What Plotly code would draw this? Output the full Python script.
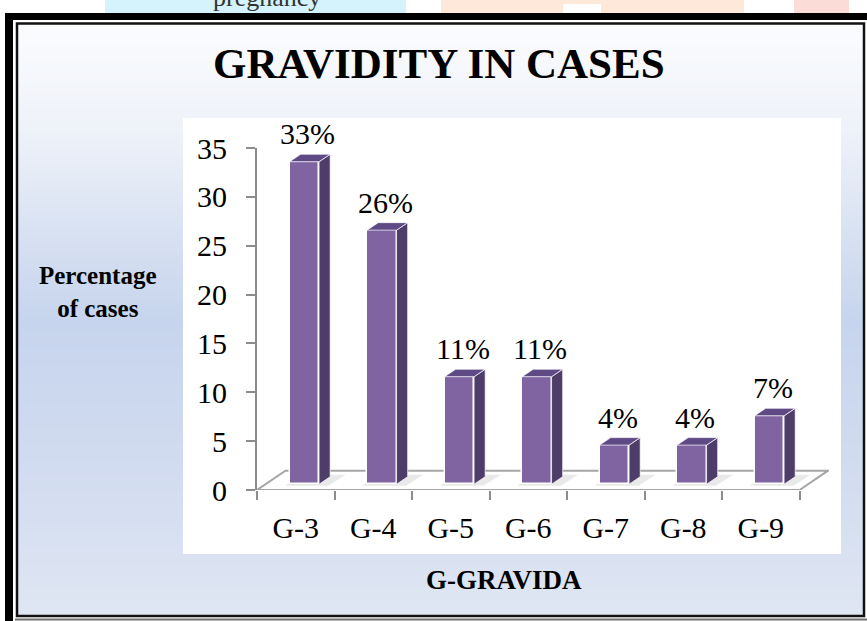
import plotly.graph_objects as go

# ---------------- data ----------------
categories = ["G-3", "G-4", "G-5", "G-6", "G-7", "G-8", "G-9"]
percent_values = [33, 26, 11, 11, 4, 4, 7]
y_tick_values = [0, 5, 10, 15, 20, 25, 30, 35]
percent_labels = [f"{v}%" for v in percent_values]

# ---------------- geometry / style ----------------
W, H = 867, 621
ML, MR, MT, MB = 257, 38, 148, 131
PW, PH = W - ML - MR, H - MT - MB
X_RANGE = [-0.5, 6.88]
Y_RANGE = [0, 35]
x_unit = PW / (X_RANGE[1] - X_RANGE[0])
y_unit = PH / (Y_RANGE[1] - Y_RANGE[0])

FDX = 28.5 / x_unit      # floor depth (x, data units)
FDY = 19.3 / y_unit      # floor depth (y, data units)
BAR_FRONT = 0.30
BAR_DEPTH = 0.39
BAR_W = 29.5 / x_unit
offx, offy = BAR_FRONT * FDX, BAR_FRONT * FDY
ddx, ddy = BAR_DEPTH * FDX, BAR_DEPTH * FDY

FONT = "Liberation Serif, Times New Roman, serif"
FRONT_C = "#8064a2"
SIDE_C = "#4f3d69"
TOP_C = "#5f4a86"
AXIS_C = "#8c8c8c"


def px(x):
    return (x - ML) / PW


def py(y):
    return (H - MB - y) / PH


def hexmix(c1, c2, t):
    a = [int(c1[i:i + 2], 16) for i in (1, 3, 5)]
    b = [int(c2[i:i + 2], 16) for i in (1, 3, 5)]
    return "#" + "".join(f"{round(a[k] + (b[k] - a[k]) * t):02x}" for k in range(3))


shapes = []
# header artifacts above the frame
for (x0, x1, col) in [(105, 406, "#d5f3fc"), (441, 744, "#fde8d9"), (794, 849, "#fcdcd6")]:
    shapes.append(dict(type="rect", xref="paper", yref="paper", x0=px(x0), x1=px(x1),
                       y0=py(0), y1=py(14), line=dict(width=0), fillcolor=col, layer="below"))
shapes.append(dict(type="rect", xref="paper", yref="paper", x0=px(563), x1=px(601),
                   y0=py(4), y1=py(14), line=dict(width=0), fillcolor="#ffffff", layer="below"))

# gradient background inside frame
stops = [(24, "#fbfcfe"), (130, "#eef2f9"), (320, "#c6d4ed"), (470, "#d2dcf0"), (616, "#dfe6f3")]
band = 6
yy = 24
while yy < 616:
    mid = yy + band / 2
    for k in range(len(stops) - 1):
        if stops[k][0] <= mid <= stops[k + 1][0]:
            t = (mid - stops[k][0]) / (stops[k + 1][0] - stops[k][0])
            col = hexmix(stops[k][1], stops[k + 1][1], t)
            break
    shapes.append(dict(type="rect", xref="paper", yref="paper", x0=px(17), x1=px(864),
                       y0=py(min(yy + band + 0.5, 616)), y1=py(yy), line=dict(width=0),
                       fillcolor=col, layer="below"))
    yy += band

# white chart area
shapes.append(dict(type="rect", xref="paper", yref="paper", x0=px(183), x1=px(841),
                   y0=py(554), y1=py(118), line=dict(width=0), fillcolor="#ffffff", layer="below"))

# frame: thick black (left & top), thin inner black rectangle
shapes.append(dict(type="rect", xref="paper", yref="paper", x0=px(5), x1=px(13),
                   y0=py(621), y1=py(13), line=dict(width=0), fillcolor="#000000", layer="below"))
shapes.append(dict(type="rect", xref="paper", yref="paper", x0=px(5), x1=px(867),
                   y0=py(20), y1=py(13), line=dict(width=0), fillcolor="#000000", layer="below"))
shapes.append(dict(type="rect", xref="paper", yref="paper", x0=px(17), x1=px(864),
                   y0=py(616), y1=py(23.5), line=dict(width=2.5, color="#111111"),
                   fillcolor="rgba(0,0,0,0)", layer="below"))
shapes.append(dict(type="line", xref="paper", yref="paper", x0=px(15), x1=px(867),
                   y0=py(619.5), y1=py(619.5), line=dict(width=2, color="#707070"), layer="below"))

# 3D floor in data coordinates
n = len(categories)
floor_path = (f"M {-0.5},0 L {n - 0.5},0 L {n - 0.5 + FDX},{FDY} "
              f"L {-0.5 + FDX},{FDY} Z")
shapes.append(dict(type="path", xref="x", yref="y", path=floor_path,
                   line=dict(color="#a6a6a6", width=2), fillcolor="#ffffff", layer="below"))
# soft shadows of bars on the floor
for i in range(n):
    xl = i + offx - BAR_W / 2
    xr = xl + BAR_W
    sp = (f"M {xl - 0.06},{offy - 0.15} L {xr + 0.12},{offy - 0.15} "
          f"L {xr + ddx + 0.2},{offy + ddy + 0.2} L {xl + ddx - 0.02},{offy + ddy + 0.2} Z")
    shapes.append(dict(type="path", xref="x", yref="y", path=sp,
                       line=dict(width=0), fillcolor="rgba(200,200,200,0.4)", layer="below"))

fig = go.Figure()

# front faces
fig.add_trace(go.Bar(
    x=[i + offx for i in range(n)], y=percent_values, base=offy, width=BAR_W,
    marker=dict(color=FRONT_C, line=dict(color="#ffffff", width=1.5)),
    hoverinfo="skip", showlegend=False))

# side and top faces
side_x, side_y, top_x, top_y = [], [], [], []
for i, v in enumerate(percent_values):
    xl = i + offx - BAR_W / 2
    xr = xl + BAR_W
    yb, yt = offy, offy + v
    side_x += [xr, xr + ddx, xr + ddx, xr, xr, None]
    side_y += [yb, yb + ddy, yt + ddy, yt, yb, None]
    top_x += [xl, xr, xr + ddx, xl + ddx, xl, None]
    top_y += [yt, yt, yt + ddy, yt + ddy, yt, None]

fig.add_trace(go.Scatter(x=side_x, y=side_y, mode="lines", fill="toself", fillcolor=SIDE_C,
                         line=dict(color="rgba(255,255,255,0.7)", width=1),
                         hoverinfo="skip", showlegend=False))
fig.add_trace(go.Scatter(x=top_x, y=top_y, mode="lines", fill="toself", fillcolor=TOP_C,
                         line=dict(color="rgba(255,255,255,0.7)", width=1),
                         hoverinfo="skip", showlegend=False))

annotations = []
for i, (v, lab) in enumerate(zip(percent_values, percent_labels)):
    annotations.append(dict(x=i + offx + ddx * 0.3, y=offy + v + ddy, xref="x", yref="y",
                            text=lab, showarrow=False, yanchor="bottom", yshift=2,
                            font=dict(family=FONT, size=30, color="#000000")))

annotations += [
    dict(xref="paper", yref="paper", x=px(439), y=py(64), text="<b>GRAVIDITY IN CASES</b>",
         showarrow=False, xanchor="center", yanchor="middle",
         font=dict(family=FONT, size=43, color="#000000")),
    dict(xref="paper", yref="paper", x=px(98), y=py(292), text="<b>Percentage<br>of cases</b>",
         showarrow=False, xanchor="center", yanchor="middle",
         font=dict(family=FONT, size=25, color="#000000")),
    dict(xref="paper", yref="paper", x=px(504), y=py(580), text="<b>G-GRAVIDA</b>",
         showarrow=False, xanchor="center", yanchor="middle",
         font=dict(family=FONT, size=27, color="#000000")),
    dict(xref="paper", yref="paper", x=px(267), y=py(-3), text="pregnancy",
         showarrow=False, xanchor="center", yanchor="middle",
         font=dict(family=FONT, size=26, color="#333333")),
]

fig.update_layout(
    width=W, height=H,
    margin=dict(l=ML, r=MR, t=MT, b=MB, pad=0),
    paper_bgcolor="#ffffff", plot_bgcolor="rgba(0,0,0,0)",
    shapes=shapes, annotations=annotations, showlegend=False, bargap=0,
    xaxis=dict(range=X_RANGE, tickvals=list(range(n)), ticktext=categories,
               ticks="", showline=False, showgrid=False, zeroline=False,
               tickfont=dict(family=FONT, size=30, color="#000000"),
               ticklabelstandoff=17,
               minor=dict(tickvals=[k - 0.5 for k in range(n + 1)], ticks="outside",
                          ticklen=9, tickwidth=2, tickcolor=AXIS_C, showgrid=False),
               fixedrange=True),
    yaxis=dict(range=Y_RANGE, tickvals=y_tick_values, ticks="outside", ticklen=9,
               tickwidth=2, tickcolor=AXIS_C, showline=True, linecolor=AXIS_C, linewidth=2,
               showgrid=False, zeroline=False,
               tickfont=dict(family=FONT, size=30, color="#000000"),
               ticklabelstandoff=13, fixedrange=True),
)

fig.write_html("out.html", config={"displayModeBar": False},
               post_script="document.body.style.margin='0';document.body.style.overflow='hidden';")
